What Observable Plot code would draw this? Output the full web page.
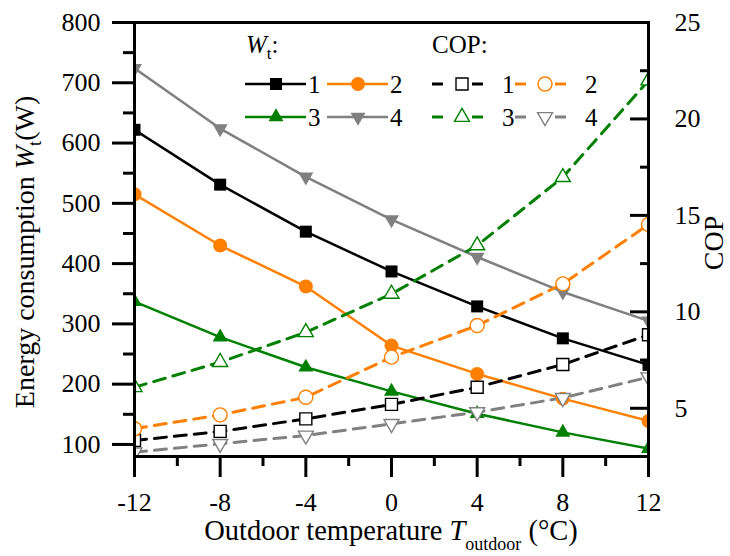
<!DOCTYPE html>
<html>
<head>
<meta charset="utf-8">
<script src="https://cdn.jsdelivr.net/npm/d3@7"></script>
<script src="https://cdn.jsdelivr.net/npm/@observablehq/plot@0.6"></script>
<style>
  html, body { margin: 0; padding: 0; background: #fff; }
  #chart { width: 730px; height: 556px; }
</style>
</head>
<body>
<div id="chart"></div>
<script>
// Outdoor temperature (°C)
const temps = [-12, -8, -4, 0, 4, 8, 12];

// Energy consumption W_t (W), cases 1–4
const w1 = [622, 531, 453, 387, 329, 276, 232];
const w2 = [515, 430, 362, 264, 217, 176, 139];
const w3 = [337, 278, 228, 188, 151, 120, 93];
const w4 = [724, 624, 544, 473, 411, 353, 305];

// Coefficient of performance, cases 1–4
const cop1 = [3.33, 3.80, 4.45, 5.20, 6.09, 7.27, 8.81];
const cop2 = [3.94, 4.66, 5.57, 7.65, 9.29, 11.45, 14.53];
const cop3 = [6.09, 7.39, 8.94, 10.93, 13.44, 16.98, 21.99];
const cop4 = [2.72, 3.16, 3.59, 4.19, 4.80, 5.54, 6.61];

// Axis ticks
const xTicks = [-12, -8, -4, 0, 4, 8, 12];
const xMinor = [-10, -6, -2, 2, 6, 10];
const wTicks = [100, 200, 300, 400, 500, 600, 700, 800];
const wMinor = [150, 250, 350, 450, 550, 650, 750];
const copTicks = [5, 10, 15, 20, 25];
const copMinor = [7.5, 12.5, 17.5, 22.5];
const caseLabels = ["1", "2", "3", "4"];

const colors = ["#000000", "#ff8000", "#008000", "#808080"];
const FONT = "'Liberation Serif', 'Times New Roman', serif";

// COP shares the vertical extent with W_t: 2.5–25 on the right, 80–800 on the left
const wDomain = [80, 800];
const copDomain = [2.5, 25];
const copToW = d3.scaleLinear(copDomain, wDomain);

// marker shapes, sized so that r is the half-width
const half = (size) => Math.sqrt(size / Math.PI);
const squareSym = {draw(ctx, size) {
  const h = half(size);
  ctx.moveTo(-h, -h); ctx.lineTo(h, -h); ctx.lineTo(h, h); ctx.lineTo(-h, h); ctx.closePath();
}};
const triUpSym = {draw(ctx, size) {
  const h = half(size), t = h * Math.sqrt(3);
  ctx.moveTo(0, -t * 2 / 3); ctx.lineTo(h, t / 3); ctx.lineTo(-h, t / 3); ctx.closePath();
}};
const triDownSym = {draw(ctx, size) {
  const h = half(size), t = h * Math.sqrt(3);
  ctx.moveTo(0, t * 2 / 3); ctx.lineTo(h, -t / 3); ctx.lineTo(-h, -t / 3); ctx.closePath();
}};
const circleSym = {draw(ctx, size) {
  const r = half(size);
  ctx.moveTo(r, 0); ctx.arc(0, 0, r, 0, 2 * Math.PI); ctx.closePath();
}};
const symbols = [squareSym, circleSym, triUpSym, triDownSym];
const radii = [6, 7, 7.5, 7.5];

const wSeries = [w1, w2, w3, w4];
const copSeries = [cop1, cop2, cop3, cop4];

const marks = [];

// W_t: solid lines with filled markers
wSeries.forEach((vals, k) => {
  marks.push(Plot.line(temps, {x: d => d, y: (d, i) => vals[i], stroke: colors[k], strokeWidth: 2.5, clip: true}));
});
// COP: dashed lines
copSeries.forEach((vals, k) => {
  marks.push(Plot.line(temps, {x: d => d, y: (d, i) => copToW(vals[i]), stroke: colors[k], strokeWidth: 3, strokeDasharray: "12,8", clip: true}));
});
wSeries.forEach((vals, k) => {
  marks.push(Plot.dot(temps, {x: d => d, y: (d, i) => vals[i], symbol: symbols[k], r: radii[k], fill: colors[k], stroke: "none", clip: true}));
});
// COP: open markers
copSeries.forEach((vals, k) => {
  marks.push(Plot.dot(temps, {x: d => d, y: (d, i) => copToW(vals[i]), symbol: symbols[k], r: radii[k], fill: "white", stroke: colors[k], strokeWidth: 1.4, clip: true}));
});

// Axes
marks.push(
  Plot.axisY({ticks: wTicks, tickSize: 22, tickPadding: 12, strokeWidth: 3, fontSize: 26, label: null, tickFormat: d => String(d)}),
  Plot.axisY({ticks: wMinor, tickSize: 11, strokeWidth: 3, fill: "none", label: null}),
  Plot.axisY({anchor: "right", ticks: copTicks.map(copToW), tickSize: 19, dx: -19, strokeWidth: 3, fill: "none", label: null}),
  Plot.axisY({anchor: "right", ticks: copMinor.map(copToW), tickSize: 9, dx: -9, strokeWidth: 3, fill: "none", label: null}),
  Plot.axisY({anchor: "right", ticks: copTicks.map(copToW), tickSize: 0, tickPadding: 26, fontSize: 26, label: null, textAnchor: "start",
    tickFormat: d => String(Math.round(copToW.invert(d)))}),
  Plot.axisX({ticks: xTicks, tickSize: 21, tickPadding: 15, strokeWidth: 3, fontSize: 26, label: null, tickFormat: d => String(d)}),
  Plot.axisX({ticks: xMinor, tickSize: 10, strokeWidth: 3, fill: "none", label: null}),
  Plot.frame({stroke: "black", strokeWidth: 3})
);

const svg = Plot.plot({
  width: 730,
  height: 556,
  marginLeft: 134,
  marginRight: 82,
  marginTop: 22,
  marginBottom: 100,
  x: {domain: [-12, 12]},
  y: {domain: wDomain},
  style: {fontFamily: FONT, background: "white", color: "black", overflow: "visible"},
  marks
});

const root = d3.select(svg);

// Axis titles with italic symbols and subscripts
const yTitle = root.append("text")
  .attr("transform", "translate(34,252) rotate(-90)")
  .attr("text-anchor", "middle")
  .attr("font-family", FONT).attr("font-size", 28).attr("fill", "black");
yTitle.append("tspan").text("Energy consumption ");
yTitle.append("tspan").attr("font-style", "italic").text("W");
yTitle.append("tspan").attr("font-size", 18).attr("dy", 7).text("t");
yTitle.append("tspan").attr("dy", -7).text("(W)");

const xTitle = root.append("text")
  .attr("x", 391).attr("y", 540)
  .attr("text-anchor", "middle")
  .attr("font-family", FONT).attr("font-size", 28.5).attr("fill", "black");
xTitle.append("tspan").text("Outdoor temperature ");
xTitle.append("tspan").attr("font-style", "italic").text("T");
xTitle.append("tspan").attr("font-size", 18).attr("dy", 10).text("outdoor");
xTitle.append("tspan").attr("dy", -10).text(" (\u00B0C)");

root.append("text")
  .attr("transform", "translate(723,243) rotate(-90)")
  .attr("text-anchor", "middle")
  .attr("font-family", FONT).attr("font-size", 28).attr("fill", "black")
  .text("COP");

// Legend
const leg = root.append("g")
  .attr("font-family", FONT).attr("font-size", 25).attr("fill", "black")
  .attr("text-anchor", "start");
const wHead = leg.append("text").attr("x", 246).attr("y", 53);
wHead.append("tspan").attr("font-style", "italic").text("W");
wHead.append("tspan").attr("font-size", 17).attr("dy", 6).text("t");
wHead.append("tspan").attr("dy", -6).text(":");
leg.append("text").attr("x", 432).attr("y", 53).text("COP:");

const rowY = [84, 84, 117, 117];
const symPath = (k) => d3.symbol(symbols[k], radii[k] * radii[k] * Math.PI)();

caseLabels.forEach((lab, k) => {
  const y = rowY[k];
  // W_t entry
  const x0 = k % 2 === 0 ? 245 : 327;
  leg.append("line").attr("x1", x0).attr("x2", x0 + 61).attr("y1", y).attr("y2", y)
    .attr("stroke", colors[k]).attr("stroke-width", 2.5);
  leg.append("path").attr("d", symPath(k)).attr("transform", `translate(${x0 + 31},${y})`)
    .attr("fill", colors[k]);
  leg.append("text").attr("x", x0 + 63).attr("y", y + 8.5).text(lab);
  // COP entry
  const c0 = k % 2 === 0 ? 432 : 515;
  leg.append("line").attr("x1", c0).attr("x2", c0 + 11).attr("y1", y).attr("y2", y)
    .attr("stroke", colors[k]).attr("stroke-width", 3);
  leg.append("line").attr("x1", c0 + 40).attr("x2", c0 + 51).attr("y1", y).attr("y2", y)
    .attr("stroke", colors[k]).attr("stroke-width", 3);
  leg.append("path").attr("d", symPath(k)).attr("transform", `translate(${c0 + 30},${y})`)
    .attr("fill", "white").attr("stroke", colors[k]).attr("stroke-width", 1.4);
  leg.append("text").attr("x", c0 + 70).attr("y", y + 8.5).text(lab);
});

document.getElementById("chart").appendChild(svg);
</script>
</body>
</html>
